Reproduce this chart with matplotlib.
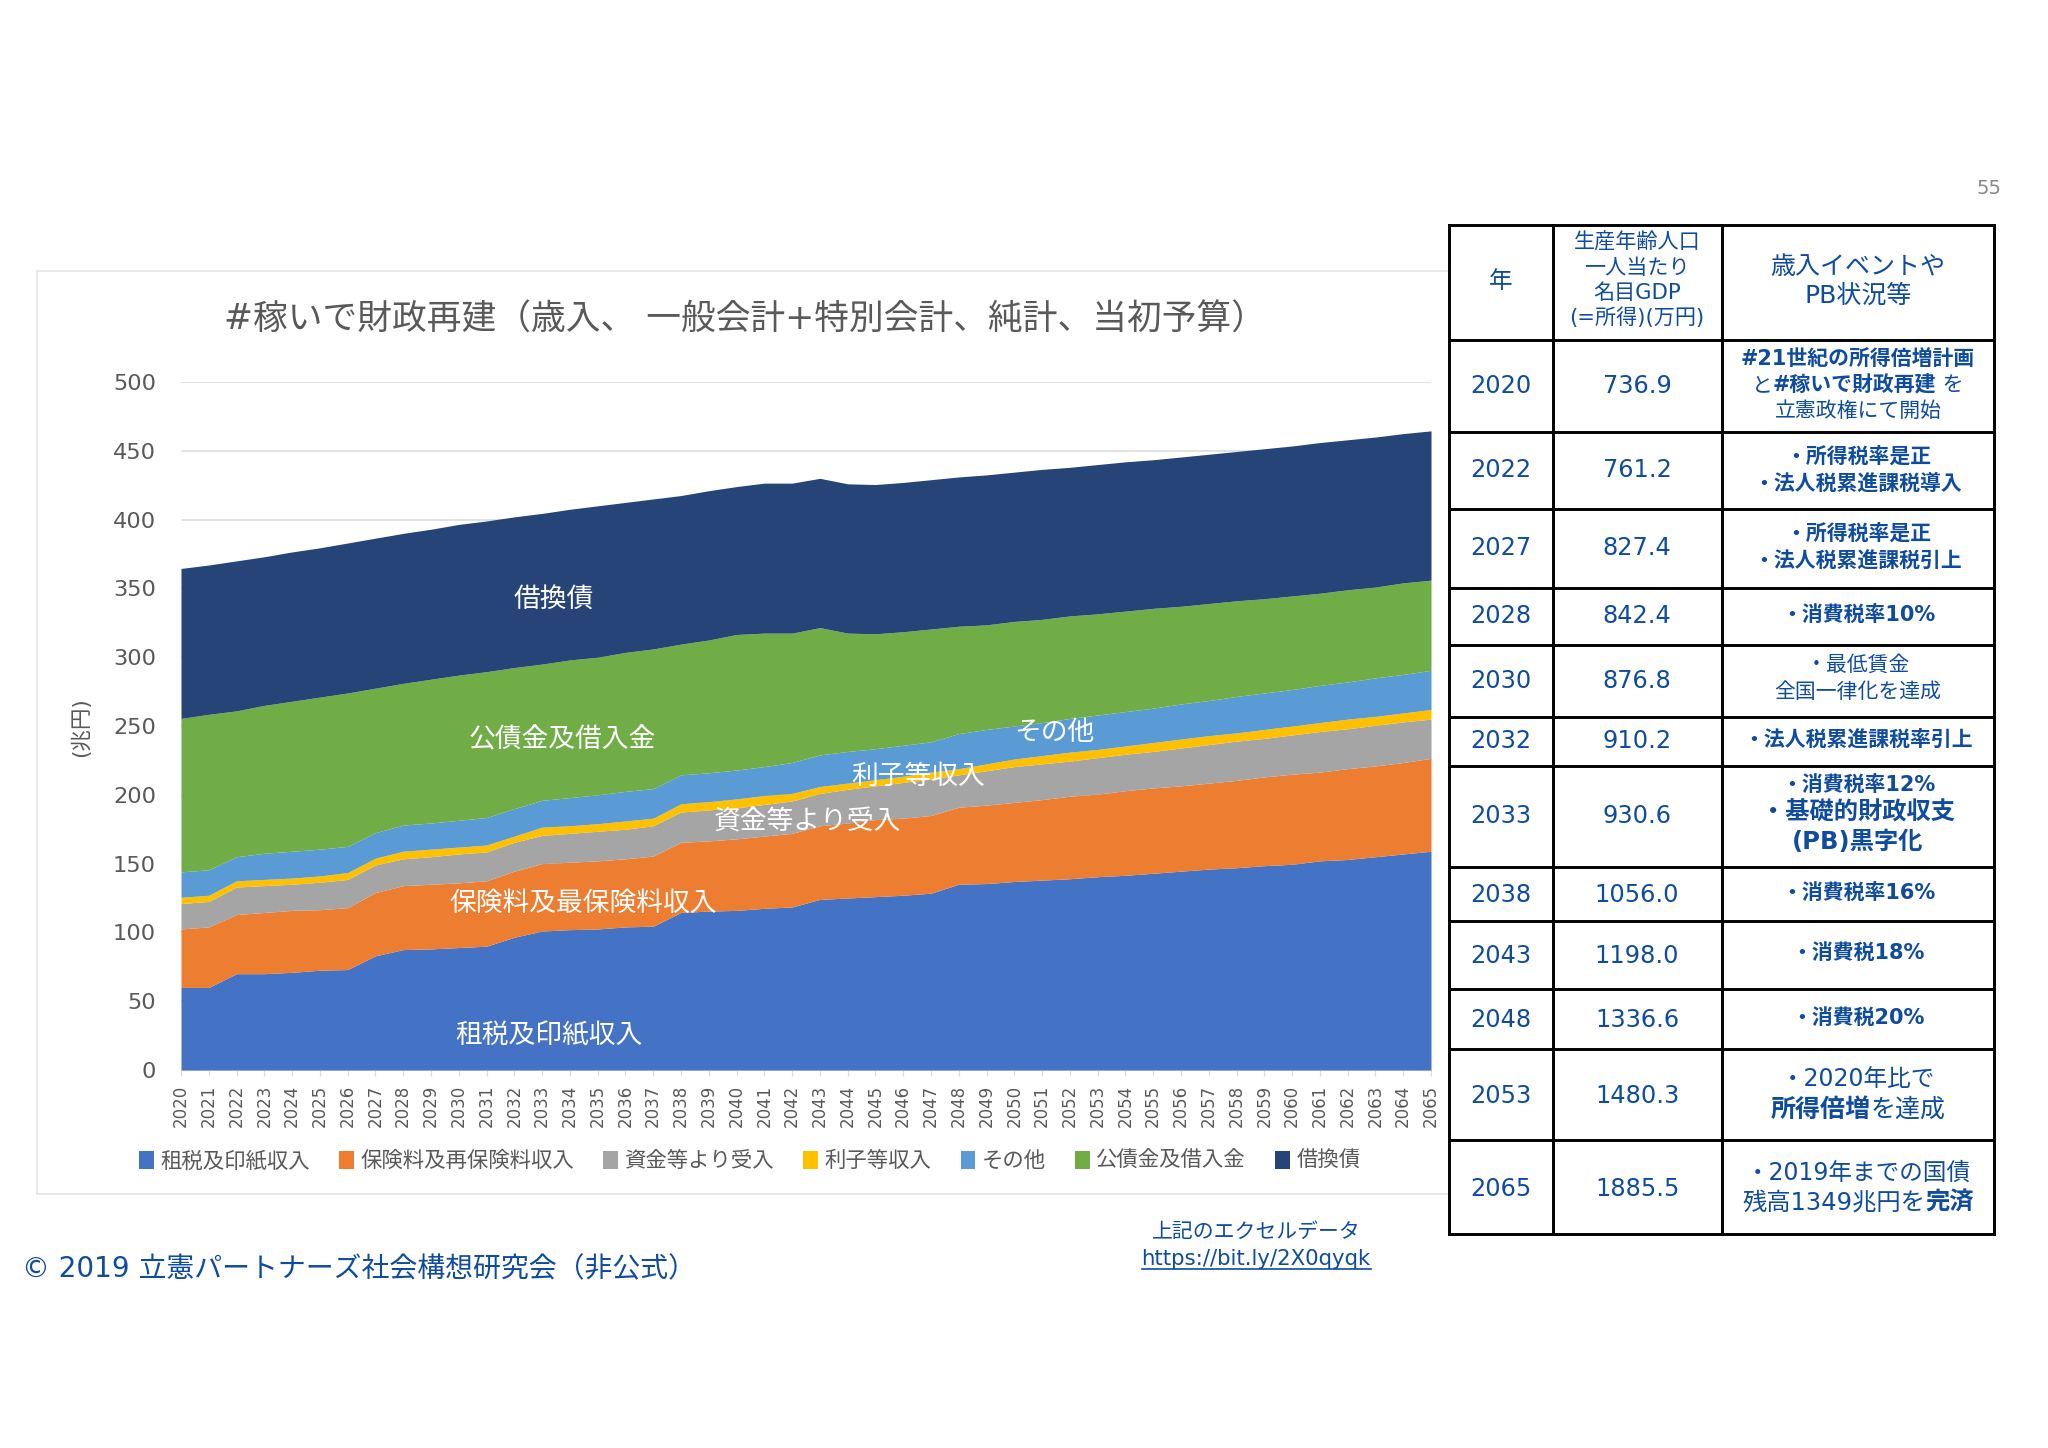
import numpy as np
import matplotlib
matplotlib.use("Agg")
import matplotlib.pyplot as plt
from matplotlib.patches import Rectangle

plt.rcParams['font.family'] = ['DejaVu Sans', 'Noto Sans CJK JP']

# data: top edge of each stacked band (trillion yen)
years = list(range(2020, 2066))
top_tax = [60, 60, 70, 70, 71, 72.5, 73, 83, 87.5, 88, 89, 90, 96.5, 101, 102, 102.5, 104, 104.5, 114.5, 115.5, 116,
           117.5, 118.5, 124, 125, 126, 127, 128.5, 135, 135.5, 137, 138, 139, 140.5, 141.5, 143, 144.5, 146, 147,
           148.5, 149.5, 152, 153, 155, 157, 159]
top_insurance = [102.5, 104, 113, 114.5, 116, 116.5, 118, 129, 134, 135, 136, 137.5, 144.5, 150, 151, 152, 153.5,
                 155.5, 165.5, 166.5, 168, 170, 172, 177.5, 179.5, 182, 183, 185, 191, 192.5, 194.5, 196.5, 199,
                 200.5, 203, 205, 206.5, 208.5, 210.5, 213, 215, 216.5, 219, 221, 223.5, 226.5]
top_funds = [121, 122.5, 133, 134, 135, 136.5, 138.5, 149, 153.5, 155, 157, 158.5, 165.5, 170.5, 172, 173.5, 175,
             177.5, 187.5, 189, 190.5, 193, 195.5, 201, 204, 206.5, 209, 211.5, 214.5, 217.5, 220.5, 222.5, 224.5,
             227, 229.5, 231.5, 234, 236.5, 239, 241, 243.5, 246, 248, 250.5, 253, 255]
top_interest = [125.5, 127, 137.5, 138.5, 139.5, 141, 143.5, 154, 159, 160.5, 162, 163.5, 170, 176.5, 177.5, 179,
                181, 183, 193.5, 195, 197, 199.5, 201, 206, 208.5, 211, 213.5, 216.5, 219, 222.5, 226, 228.5, 231,
                233, 235.5, 238, 240.5, 243, 245, 247.5, 250, 252.5, 255, 257, 259.5, 262]
top_other = [144, 145.5, 155, 157.5, 159, 160.5, 162.5, 172.5, 178, 179.5, 181.5, 183.5, 190, 196, 198, 200, 202.5,
             204.5, 214.5, 216, 218, 220.5, 223.5, 229, 231.5, 233.5, 236, 238.5, 244.5, 247.5, 250, 252.5, 255.5,
             258, 260.5, 263, 266, 268.5, 271.5, 274, 276.5, 279.5, 282, 285, 287.5, 290.5]
top_bonds = [255.5, 258.5, 261, 265, 268, 271, 274, 277.5, 281, 284, 287, 289.5, 292.5, 295, 298, 300, 303.5, 306,
             309.5, 312.5, 316.5, 317.5, 317.5, 321.5, 317.5, 317, 318.5, 320.5, 322.5, 323.5, 326, 327.5, 330,
             331.5, 333.5, 335.5, 337, 339, 341, 342.5, 344.5, 346.5, 349, 351, 354, 356]
top_refunding = [364.5, 367, 370, 373, 376.5, 379.5, 383, 386.5, 390, 393, 396.5, 399, 402, 404.5, 407.5, 410, 412.5,
                 415, 417.5, 421, 424, 426.5, 426.5, 430, 426, 425.5, 427, 429, 431, 432.5, 434.5, 436.5, 438, 440,
                 442, 443.5, 445.5, 447.5, 449.5, 451.5, 453.5, 456, 458, 460, 462.5, 464.5]

legend_labels = ['租税及印紙収入', '保険料及再保険料収入', '資金等より受入', '利子等収入', 'その他', '公債金及借入金', '借換債']
band_colors = ['#4472C4', '#ED7D31', '#A5A5A5', '#FFC000', '#5B9BD5', '#70AD47', '#264478']

table_years = ['2020', '2022', '2027', '2028', '2030', '2032', '2033', '2038', '2043', '2048', '2053', '2065']
table_gdp = ['736.9', '761.2', '827.4', '842.4', '876.8', '910.2', '930.6', '1056.0', '1198.0', '1336.6', '1480.3', '1885.5']

W, H = 2048, 1448
GRAY = '#595959'
NAVY = '#0F4C9E'
COL3_MID = 1858

fig = plt.figure(figsize=(W / 100, H / 100), dpi=100, facecolor='white')

# chart
ax = fig.add_axes([181 / W, (H - 1070) / H, 1250 / W, 688 / H])
tops = [np.zeros(len(years)), top_tax, top_insurance, top_funds, top_interest, top_other, top_bonds, top_refunding]
for i in range(7):
    ax.fill_between(years, tops[i], tops[i + 1], color=band_colors[i], lw=0, label=legend_labels[i], zorder=3)
ax.set_xlim(2020, 2065)
ax.set_ylim(0, 500)
ax.set_xticks(years)
ax.set_xticklabels([str(y) for y in years], rotation=90, fontsize=12, color=GRAY)
ax.set_yticks(range(0, 501, 50))
ax.tick_params(axis='y', length=0, pad=18, labelsize=16.2, labelcolor=GRAY)
ax.tick_params(axis='x', length=4.5, width=0.8, color='#D9D9D9', pad=6)
ax.grid(axis='y', color='#D9D9D9', lw=1.1, zorder=1)
for side in ['top', 'left', 'right']:
    ax.spines[side].set_visible(False)
ax.spines['bottom'].set_color('#D9D9D9')
ax.patch.set_alpha(0)

ax.legend(loc='center left', bbox_to_anchor=(-(181 - 139) / 1250, -(1161 - 1070) / 688), ncol=7, frameon=False,
          fontsize=15.4, labelcolor=GRAY, handlelength=0.68, handleheight=0.95, handletextpad=0.3,
          columnspacing=1.38, borderpad=0, borderaxespad=0)

# pixel overlay for the table and free text
ov = fig.add_axes([0, 0, 1, 1], zorder=5)
ov.set_xlim(0, W)
ov.set_ylim(H, 0)
ov.axis('off')


def label(x, y, s, **kw):
    # CJK text sits a little high with va=center
    return ov.text(x, y + 3, s, va='center', **kw)


ov.add_patch(Rectangle((37, 271), 1412, 923, fill=False, ec='#E4E4E4', lw=1.2, zorder=1))
label(745, 317, '#稼いで財政再建（歳入、 一般会計+特別会計、純計、当初予算）', fontsize=25, color=GRAY, ha='center')
ov.text(81, 727, '(兆円)', fontsize=15.5, color=GRAY, rotation=90, ha='center', va='center')

band_notes = [('借換債', 554, 597), ('公債金及借入金', 562, 737), ('保険料及最保険料収入', 583, 901), ('租税及印紙収入', 549, 1033),
              ('資金等より受入', 807, 820), ('利子等収入', 918, 774), ('その他', 1054, 730)]
for note, nx, ny in band_notes:
    label(nx, ny, note, fontsize=19.3, color='white', ha='center')

label(22, 1266, '© 2019 立憲パートナーズ社会構想研究会（非公式）', fontsize=20.1, color=NAVY, ha='left')
label(1256, 1229, '上記のエクセルデータ', fontsize=15, color=NAVY, ha='center')
label(1256, 1256, 'https://bit.ly/2X0qyqk', fontsize=15.3, color=NAVY, ha='center')
ov.plot([1142, 1371], [1269, 1269], color=NAVY, lw=1.2)
ov.text(1989, 189, '55', fontsize=14, color='#898989', ha='center', va='center')

# table grid
col_x = [1449, 1553, 1722, 1994]
row_y = [225, 340, 432, 509, 588, 645, 717, 766, 867, 921, 989, 1049, 1140, 1234]
for x in col_x:
    ov.plot([x, x], [row_y[0], row_y[-1]], color='black', lw=2.1, solid_capstyle='projecting')
for y in row_y:
    ov.plot([col_x[0], col_x[-1]], [y, y], color='black', lw=2.1, solid_capstyle='projecting')

# table header
label(1501, 278, '年', fontsize=17, color=NAVY, ha='center')
for line, y in zip(['生産年齢人口', '一人当たり', '名目GDP', '(=所得)(万円)'], [239, 265, 290, 315]):
    label(1637, y, line, fontsize=15.2, color=NAVY, ha='center')
for line, y in zip(['歳入イベントや', 'PB状況等'], [264, 293]):
    label(COL3_MID, y, line, fontsize=18, color=NAVY, ha='center')

# year and GDP columns
row_mid = [383, 467, 545, 613, 678, 738, 813, 892, 953, 1017, 1093, 1186]
for yr, gdp, y in zip(table_years, table_gdp, row_mid):
    label(1501, y, yr, fontsize=17.3, color=NAVY, ha='center')
    label(1637, y, gdp, fontsize=17.3, color=NAVY, ha='center')


def rich_line(y, runs, size):
    # runs of (text, bold) laid side by side, centred in the third column
    r = fig.canvas.get_renderer()
    items = []
    total = 0
    for s, bold in runs:
        t = label(0, y, s, fontsize=size, color=NAVY, ha='left', weight='bold' if bold else 'normal')
        w = t.get_window_extent(r).width
        items.append((t, w))
        total += w
    x = COL3_MID - total / 2
    for t, w in items:
        t.set_x(x)
        x += w


rich_line(356, [('#21世紀の所得倍増計画', True)], 15)
rich_line(382, [('と', False), ('#稼いで財政再建', True), (' を', False)], 15)
rich_line(408, [('立憲政権にて開始', False)], 15)
rich_line(453, [('・所得税率是正', True)], 15)
rich_line(481, [('・法人税累進課税導入', True)], 15)
rich_line(530, [('・所得税率是正', True)], 15)
rich_line(559, [('・法人税累進課税引上', True)], 15)
rich_line(612, [('・消費税率10%', True)], 15)
rich_line(662, [('・最低賃金', False)], 15)
rich_line(689, [('全国一律化を達成', False)], 15)
rich_line(737, [('・法人税累進課税率引上', True)], 15)
rich_line(782, [('・消費税率12%', True)], 15)
rich_line(810, [('・基礎的財政収支', True)], 17.5)
rich_line(839, [('(PB)黒字化', True)], 17.5)
rich_line(890, [('・消費税率16%', True)], 15)
rich_line(950, [('・消費税18%', True)], 15)
rich_line(1015, [('・消費税20%', True)], 15)
rich_line(1076, [('・2020年比で', False)], 17)
rich_line(1107, [('所得倍増', True), ('を達成', False)], 18)
rich_line(1170, [('・2019年までの国債', False)], 17)
rich_line(1200, [('残高1349兆円を', False), ('完済', True)], 17.5)

fig.savefig('out.png', dpi=100)
